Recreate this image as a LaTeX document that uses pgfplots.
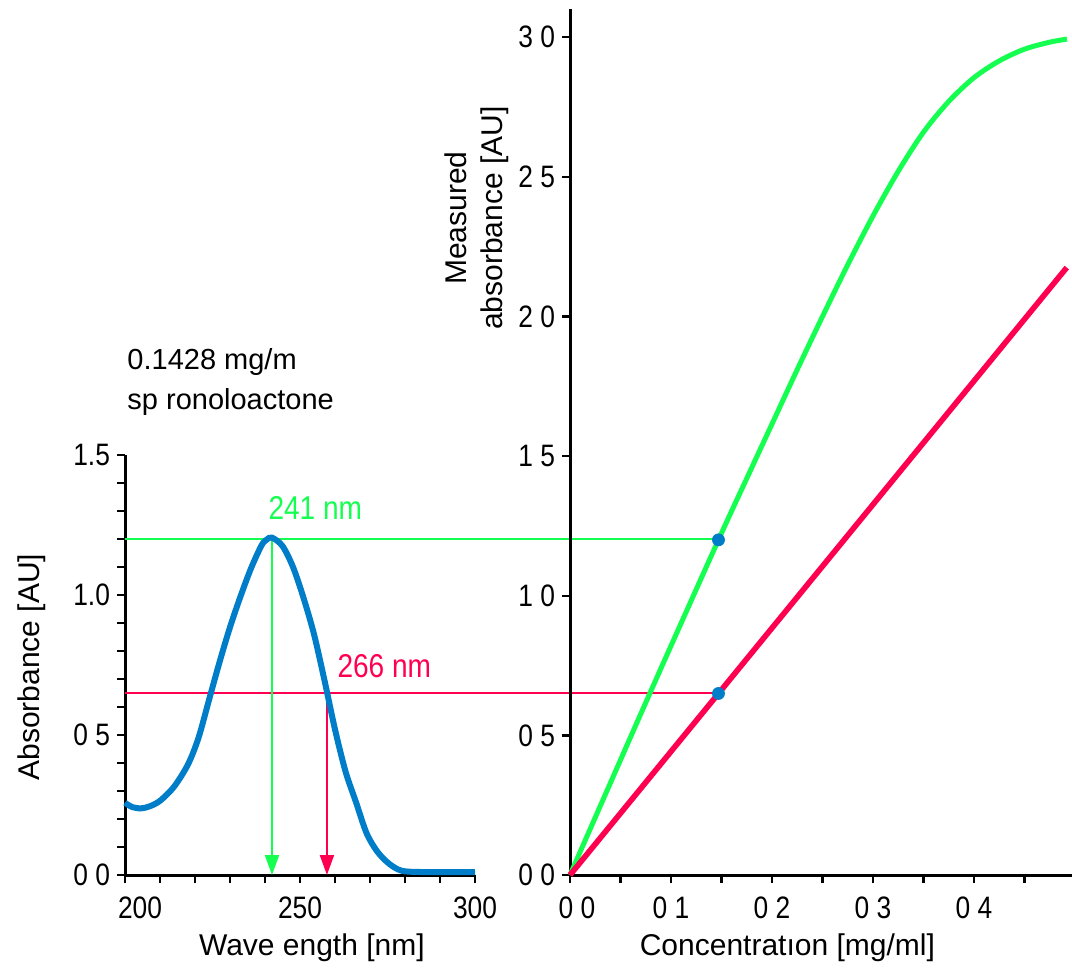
\documentclass[border=0pt]{standalone}
\usepackage{fontspec}
\setmainfont{Liberation Sans}
\newfontfamily\tickfont[FakeStretch=0.85]{Liberation Sans}
\usepackage{pgfplots}
\pgfplotsset{compat=1.18}
\usetikzlibrary{arrows.meta}
\definecolor{cgreen}{HTML}{14FF50}
\definecolor{cred}{HTML}{FF0050}
\definecolor{cblue}{HTML}{007DC8}
\pgfplotsset{
  mystyle/.style={
    scale only axis,
    axis x line*=bottom, axis y line*=left,
    axis line style={line width=1.5pt, -},
    tick style={line width=1.2pt, black},
    major tick length=4pt,
    minor tick length=4pt,
    tick align=outside,
    every tick label/.append style={font=\tickfont\fontsize{15.5}{16}\selectfont},
    xticklabel style={yshift=-3.5pt},
    label style={font=\fontsize{15}{18}\selectfont},
    clip=false,
  }
}
\begin{document}
\begin{tikzpicture}
\path[use as bounding box] (0,0) rectangle (536pt,-484pt);
% ---------------- left: spectrum
\begin{axis}[mystyle,
  at={(62.5pt,-437.5pt)}, anchor=south west,
  width=175pt, height=210pt,
  xmin=200, xmax=300, ymin=0, ymax=1.5,
  xtick={200,250,300}, xticklabels={\hspace*{15pt}200,250,300},
  minor xtick={210,220,230,240,260,270,280,290},
  ytick={0,0.5,1,1.5}, yticklabels={0\hphantom{.}0,0\hphantom{.}5,1.0,1.5},
  minor ytick={0.1,0.2,0.3,0.4,0.6,0.7,0.8,0.9,1.1,1.2,1.3,1.4},
  xlabel={Wave ength [nm]},
  ylabel={Absorbance [AU]},
  xlabel style={at={(axis description cs:0.534,-0.174)}, anchor=center},
  ylabel style={at={(axis description cs:-0.266,0.495)}, anchor=center},
]
\addplot[cgreen, line width=1pt] coordinates {(200,1.2) (369.4,1.2)};
\addplot[cred, line width=1pt] coordinates {(200,0.65) (369.4,0.65)};
\addplot[cgreen, line width=1pt, -{Triangle[width=7pt,length=10pt]}] coordinates {(242,1.2) (242,0)};
\addplot[cred, line width=1pt, -{Triangle[width=7pt,length=10pt]}] coordinates {(257.7,0.65) (257.7,0)};
\addplot[cblue, line width=3pt, smooth] coordinates {
(200,0.258) (202,0.243) (204.5,0.238) (207,0.245) (210,0.265) (214,0.315)
(218,0.395) (221,0.49) (224,0.625) (227,0.76) (230,0.885) (233,0.995)
(236,1.095) (239,1.177) (240.5,1.198) (242,1.205) (245,1.175) (248,1.10)
(251,0.99) (254,0.86) (257,0.695) (260,0.52) (263,0.37) (266,0.26)
(269,0.15) (272,0.085) (275,0.045) (278,0.02) (281,0.012) (290,0.01) (300,0.01)};
\node[anchor=base west, inner sep=0pt, text=cgreen, font=\tickfont\fontsize{16.5}{18}\selectfont] at (axis cs:240.9,1.271) {241 nm};
\node[anchor=base west, inner sep=0pt, text=cred, font=\tickfont\fontsize{16.5}{18}\selectfont] at (axis cs:260.6,0.707) {266 nm};
\node[anchor=base west, inner sep=0pt, font=\fontsize{14.5}{18}\selectfont] at (axis cs:200.6,1.804) {0.1428 mg/m};
\node[anchor=base west, inner sep=0pt, font=\fontsize{14.5}{18}\selectfont] at (axis cs:200.6,1.661) {sp ronoloactone};
\end{axis}
% ---------------- right: calibration
\begin{axis}[mystyle,
  at={(285pt,-437.5pt)}, anchor=south west,
  width=251pt, height=432.9pt,
  xmin=0, xmax=0.497, ymin=0, ymax=3.1,
  xtick={0,0.1,0.2,0.3,0.4}, xticklabels={\hspace*{7pt}0 0,0 1,0 2,0 3,0 4},
  minor xtick={0.05,0.15,0.25,0.35,0.45},
  ytick={0,0.5,1,1.5,2,2.5,3}, yticklabels={0 0,0 5,1 0,1 5,2 0,2 5,3 0},
  xlabel={Concentratıon [mg/ml]},
  ylabel={Measured\\absorbance [AU]},
  xlabel style={at={(axis description cs:0.433,-0.0843)}, anchor=center},
  ylabel style={at={(axis description cs:-0.185,0.7587)}, anchor=center, align=center},
]
\addplot[cgreen, line width=2.5pt, smooth] coordinates {
(0,0) (0.079,0.65) (0.147,1.2) (0.175,1.42) (0.20,1.615) (0.225,1.81)
(0.25,2.0) (0.275,2.185) (0.30,2.36) (0.325,2.52) (0.35,2.66) (0.375,2.77)
(0.40,2.855) (0.425,2.915) (0.45,2.957) (0.475,2.982) (0.492,2.993)};
\addplot[cred, line width=2.8pt] coordinates {(0,0) (0.147,0.65) (0.4918,2.175)};
\addplot[only marks, mark=*, mark size=3pt, cblue] coordinates {(0.147,1.2) (0.147,0.65)};
\end{axis}
\end{tikzpicture}
\end{document}
